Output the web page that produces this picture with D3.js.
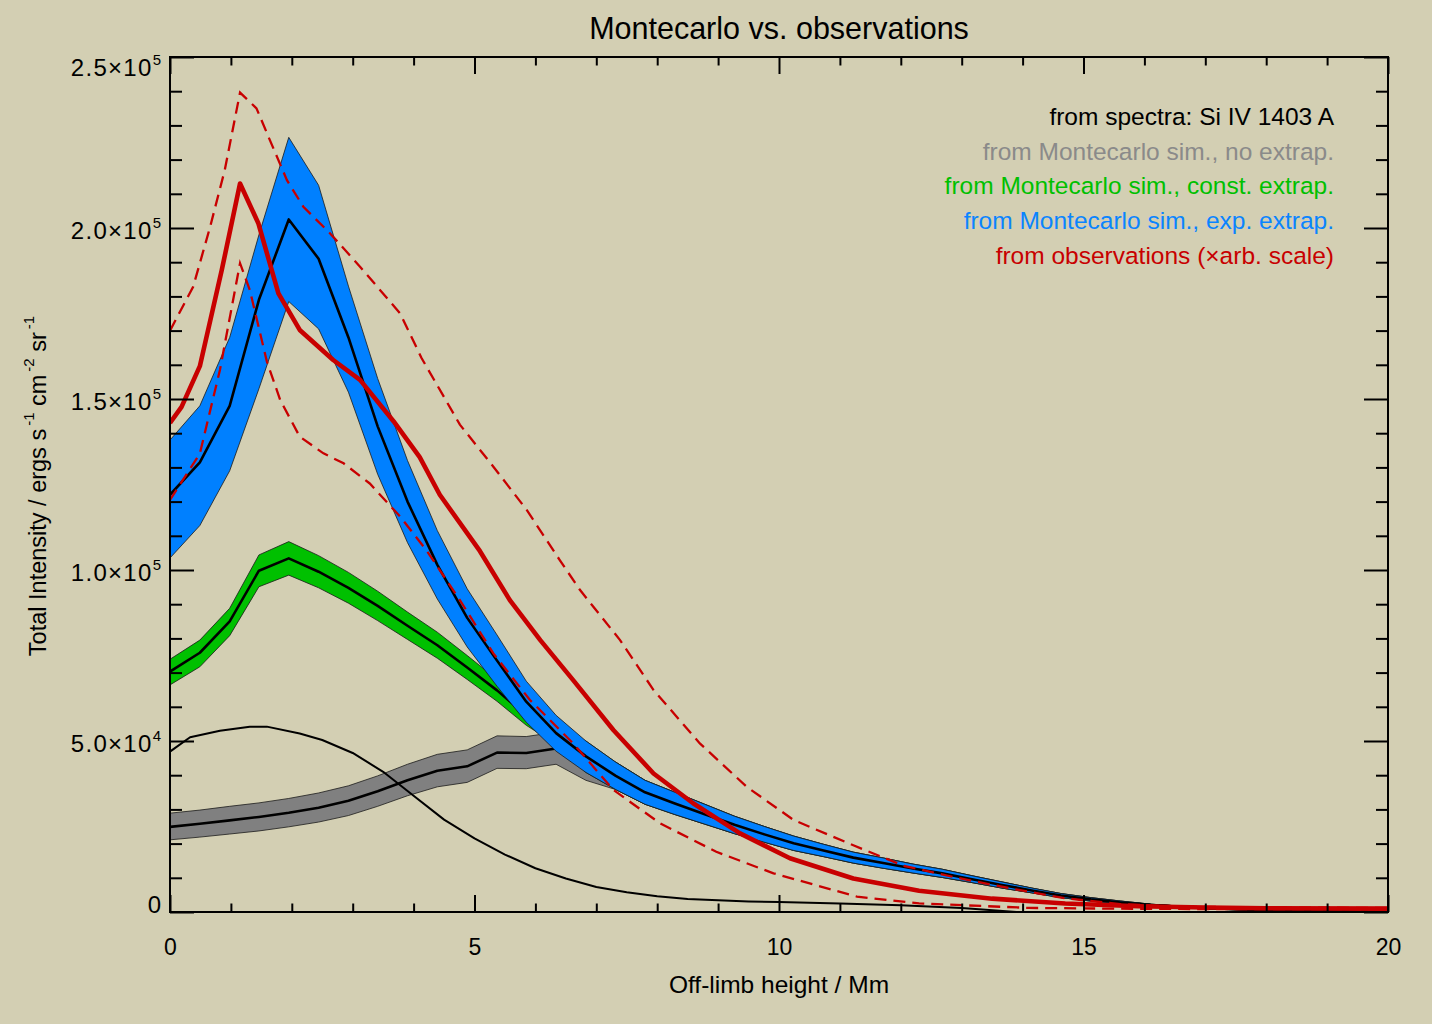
<!DOCTYPE html>
<html>
<head>
<meta charset="utf-8">
<script src="https://cdn.jsdelivr.net/npm/d3@7"></script>
<style>
  body { margin: 0; background: #d3cfb3; }
  svg { display: block; font-family: "Liberation Sans", Arial, Helvetica, sans-serif; }
</style>
</head>
<body>
<svg id="chart" width="1432" height="1024"></svg>
<script>
// Intensities are in units of 10^3 erg s^-1 cm^-2 sr^-1, heights in Mm.

// Simulation height grid
const simHeights = [0, 0.49, 0.98, 1.46, 1.95, 2.44, 2.93, 3.41, 3.90, 4.39, 4.88, 5.37, 5.85, 6.34,
  6.83, 7.32, 7.80, 8.29, 8.78, 9.27, 9.76, 10.24, 10.73, 11.22, 11.71, 12.20, 12.68, 13.17, 13.66,
  14.15, 14.63, 15.12, 15.61, 16.10, 16.59, 17.07, 17.56, 18.05, 18.54, 19.02, 19.51, 20.0];

// Montecarlo, exponential extrapolation: mean and spread
const expMid = [122, 131.5, 148, 179, 202.5, 191, 168, 142, 120, 101.5, 86, 73.5, 61.5, 52.3,
  45.5, 39.8, 35, 31.7, 28.6, 25.5, 22.7, 20.1, 18, 15.9, 14.3, 12.7, 11.3, 9.6, 7.9,
  6.3, 4.8, 3.7, 2.8, 2.0, 1.5, 1.1, 0.8, 0.6, 0.4, 0.3, 0.2, 0.2];
const expHi = [138, 148, 168, 198, 226.5, 212.5, 183, 156, 132, 111.5, 94.5, 81, 67.5, 57.5,
  50, 43.8, 38.5, 35, 31.5, 28, 25, 22.2, 19.8, 17.5, 15.8, 14, 12.5, 10.6, 8.8,
  7, 5.4, 4.2, 3.2, 2.3, 1.7, 1.3, 0.9, 0.7, 0.5, 0.35, 0.25, 0.25];
const expLo = [103.5, 113, 129, 153, 178.5, 170.5, 152, 128, 108, 91.5, 77.5, 66, 55.5, 47,
  40.8, 35.8, 31.5, 28.5, 25.7, 22.9, 20.4, 18, 16.2, 14.3, 12.8, 11.4, 10.1, 8.6, 7,
  5.6, 4.2, 3.2, 2.4, 1.7, 1.3, 0.9, 0.7, 0.5, 0.3, 0.25, 0.15, 0.15];

// Montecarlo, constant extrapolation
const constMid = [70.3, 75.8, 85, 99.8, 103.4, 99.5, 94.8, 89.5, 83.7, 78, 71.5, 64.8, 57.5, 51.5,
  45.5, 39.8, 35, 31.7, 28.6, 25.5, 22.7, 20.1, 18, 15.9, 14.3, 12.7, 11.3, 9.6, 7.9,
  6.3, 4.8, 3.7, 2.8, 2.0, 1.5, 1.1, 0.8, 0.6, 0.4, 0.3, 0.2, 0.2];
const constHi = [73.9, 79.5, 88.8, 104.4, 108.3, 104.2, 99.3, 93.8, 87.7, 81.8, 75, 68, 60.4, 54,
  50, 43.8, 38.5, 35, 31.5, 28, 25, 22.2, 19.8, 17.5, 15.8, 14, 12.5, 10.6, 8.8,
  7, 5.4, 4.2, 3.2, 2.3, 1.7, 1.3, 0.9, 0.7, 0.5, 0.35, 0.25, 0.25];
const constLo = [66.4, 71.7, 80.8, 95.1, 98.5, 94.8, 90.3, 85.2, 79.7, 74.2, 68, 61.6, 54.6, 49,
  40.8, 35.8, 31.5, 28.5, 25.7, 22.9, 20.4, 18, 16.2, 14.3, 12.8, 11.4, 10.1, 8.6, 7,
  5.6, 4.2, 3.2, 2.4, 1.7, 1.3, 0.9, 0.7, 0.5, 0.3, 0.25, 0.15, 0.15];

// Montecarlo, no extrapolation
const noneMid = [24.9, 25.8, 26.8, 27.8, 29.0, 30.5, 32.5, 35.3, 38.5, 41.3, 42.6, 46.6, 46.5, 47.8,
  42.7, 39.8, 35, 31.7, 28.6, 25.5, 22.7, 20.1, 18, 15.9, 14.3, 12.7, 11.3, 9.6, 7.9,
  6.3, 4.8, 3.7, 2.8, 2.0, 1.5, 1.1, 0.8, 0.6, 0.4, 0.3, 0.2, 0.2];
const noneHi = [28.9, 29.8, 30.9, 31.9, 33.2, 34.8, 36.9, 39.8, 43.2, 46.1, 47.4, 51.5, 51.3, 52.6,
  47, 43.8, 38.5, 35, 31.5, 28, 25, 22.2, 19.8, 17.5, 15.8, 14, 12.5, 10.6, 8.8,
  7, 5.4, 4.2, 3.2, 2.3, 1.7, 1.3, 0.9, 0.7, 0.5, 0.35, 0.25, 0.25];
const noneLo = [21.1, 21.9, 22.8, 23.7, 24.9, 26.3, 28.2, 30.9, 34, 36.6, 37.9, 42, 41.9, 43.2,
  38.5, 35.8, 31.5, 28.5, 25.7, 22.9, 20.4, 18, 16.2, 14.3, 12.8, 11.4, 10.1, 8.6, 7,
  5.6, 4.2, 3.2, 2.4, 1.7, 1.3, 0.9, 0.7, 0.5, 0.3, 0.25, 0.15, 0.15];

// From spectra: Si IV 1403 A
const specHeights = [0, 0.33, 0.82, 1.31, 1.59, 2.13, 2.5, 3.0, 3.5, 4.0, 4.5, 5.0, 5.5, 6.0, 6.5,
  7.0, 7.5, 8.0, 8.5, 9.0, 9.5, 10.0, 11.0, 12.0, 13.0, 13.9];
const specValues = [46.9, 51.1, 53.0, 54.2, 54.2, 52.2, 50.3, 46.5, 41, 34, 27, 21.5, 16.8, 12.8, 9.8,
  7.3, 5.8, 4.6, 3.8, 3.4, 3.1, 2.9, 2.5, 2.0, 1.2, 0];

// Observations (arbitrary scale): profile and its upper / lower envelopes
const obsHeights = [0, 0.19, 0.49, 0.85, 1.15, 1.45, 1.78, 2.13, 2.68, 3.12, 3.67, 4.10, 4.43, 5.09,
  5.58, 6.08, 6.62, 7.28, 7.94, 8.59, 9.36, 10.18, 11.22, 12.3, 13.5, 14.7, 15.9, 17, 18, 20];
const obsValues = [143, 147.7, 159.6, 187.7, 213, 201.4, 180.9, 170.2, 161.4, 155.6, 143.5, 133, 122, 105.5,
  91.2, 79.5, 67.8, 53.2, 40.5, 31.8, 23, 15.7, 9.8, 6.2, 3.9, 2.5, 1.7, 1.3, 1.1, 1.0];

const obsHiHeights = [0, 0.38, 0.66, 0.9, 1.15, 1.42, 1.64, 1.92, 2.19, 2.63, 3.12, 3.78, 4.13, 4.76,
  5.31, 5.86, 6.4, 6.73, 7.39, 7.94, 8.7, 9.47, 10.24, 11.22, 12.05, 12.9, 13.8, 14.7, 15.6, 16.5, 18, 20];
const obsHiValues = [170, 182.8, 200.4, 217, 239.6, 235, 225.7, 214, 206.2, 198.4, 188.7, 175, 162, 142.5,
  130.2, 117.5, 102.9, 94.2, 79.5, 64.9, 49.3, 36.6, 26.9, 19.5, 13.5, 10.1, 6.9, 4, 2.3, 1.6, 1.3, 1.2];

const obsLoHeights = [0, 0.49, 0.82, 1.15, 1.31, 1.59, 1.81, 2.13, 2.52, 2.85, 3.28, 3.78, 4.21, 4.76,
  5.31, 5.91, 6.62, 7.28, 8.05, 8.97, 9.91, 11.28, 12.3, 14.1, 16, 20];
const obsLoValues = [120.5, 134, 158.5, 189.7, 181.9, 161, 149.7, 139, 134.1, 131.2, 125.3, 115.6, 105.8, 91.2,
  75.6, 62, 49.3, 35.7, 25.9, 17.6, 11.3, 4.5, 2.5, 1.2, 0.9, 0.8];

// Axis ticks and labels
const xMajorTicks = [0, 5, 10, 15, 20];
const xMinorTicks = [1, 2, 3, 4, 6, 7, 8, 9, 11, 12, 13, 14, 16, 17, 18, 19];
const yMajorTicks = [0, 50, 100, 150, 200, 250];
const yMinorTicks = [10, 20, 30, 40, 60, 70, 80, 90, 110, 120, 130, 140, 160, 170, 180, 190, 210, 220, 230, 240];
const yTickLabels = ["0", "5.0×10^4", "1.0×10^5", "1.5×10^5", "2.0×10^5", "2.5×10^5"];

const legendItems = ["from spectra: Si IV 1403 A", "from Montecarlo sim., no extrap.",
  "from Montecarlo sim., const. extrap.", "from Montecarlo sim., exp. extrap.",
  "from observations (×arb. scale)"];
const legendColors = ["#000000", "#8a8a8a", "#00c000", "#0a84ff", "#c80000"];

const colors = { none: "#808080", cnst: "#00c000", exp: "#0080ff", obs: "#c80000" };

// ---------------------------------------------------------------------------
const svg = d3.select("#chart");
const W = 1432, H = 1024;
svg.append("rect").attr("width", W).attr("height", H).attr("fill", "#d3cfb3");

const plot = { left: 170, right: 1388, top: 57, bottom: 912 };
const x = d3.scaleLinear().domain([0, 20]).range([plot.left, plot.right]);
const y = d3.scaleLinear().domain([0, 250]).range([plot.bottom, plot.top]);

svg.append("defs").append("clipPath").attr("id", "plotClip")
  .append("rect").attr("x", plot.left).attr("y", plot.top)
  .attr("width", plot.right - plot.left).attr("height", plot.bottom - plot.top);

const g = svg.append("g").attr("clip-path", "url(#plotClip)");

const zip = (xs, ys) => xs.map((v, i) => [v, ys[i]]);
const line = d3.line().x(d => x(d[0])).y(d => y(d[1]));
const band = d3.area().x(d => x(d[0])).y0(d => y(d[1])).y1(d => y(d[2]));
const zip3 = (xs, lo, hi) => xs.map((v, i) => [v, lo[i], hi[i]]);

function drawBand(lo, hi, mid, fill) {
  g.append("path").attr("d", band(zip3(simHeights, lo, hi)))
    .attr("fill", fill).attr("stroke", "#1a1a1a").attr("stroke-width", 0.8);
  g.append("path").attr("d", line(zip(simHeights, mid)))
    .attr("fill", "none").attr("stroke", "#000").attr("stroke-width", 2.6)
    .attr("stroke-linejoin", "round");
}

drawBand(noneLo, noneHi, noneMid, colors.none);
drawBand(constLo, constHi, constMid, colors.cnst);
drawBand(expLo, expHi, expMid, colors.exp);

g.append("path").attr("d", line(zip(specHeights, specValues)))
  .attr("fill", "none").attr("stroke", "#000").attr("stroke-width", 2)
  .attr("stroke-linejoin", "round");

[[obsLoHeights, obsLoValues], [obsHiHeights, obsHiValues]].forEach(([hx, hv]) => {
  g.append("path").attr("d", line(zip(hx, hv)))
    .attr("fill", "none").attr("stroke", colors.obs).attr("stroke-width", 2.3)
    .attr("stroke-dasharray", "12,7");
});
g.append("path").attr("d", line(zip(obsHeights, obsValues)))
  .attr("fill", "none").attr("stroke", colors.obs).attr("stroke-width", 4.6)
  .attr("stroke-linejoin", "round");

// ---------------------------------------------------------------------------
// Frame and tick marks on all four sides, pointing inward
const tickStyle = sel => {
  sel.select(".domain").remove();
  sel.selectAll(".tick line").attr("stroke", "#000").attr("stroke-width", 2);
};
const xMajLen = 17, xMinLen = 8.5, yMajLen = 24, yMinLen = 12;

svg.append("g").attr("transform", `translate(0,${plot.bottom})`)
  .call(d3.axisBottom(x).tickValues(xMajorTicks).tickSize(-xMajLen).tickPadding(27)
    .tickFormat(d => String(d)))
  .call(tickStyle)
  .call(s => s.selectAll(".tick text").attr("font-size", 23).attr("fill", "#000")
    .attr("font-family", "'Liberation Sans', Arial, sans-serif"));
svg.append("g").attr("transform", `translate(0,${plot.bottom})`)
  .call(d3.axisBottom(x).tickValues(xMinorTicks).tickSize(-xMinLen).tickFormat(""))
  .call(tickStyle);
svg.append("g").attr("transform", `translate(0,${plot.top})`)
  .call(d3.axisTop(x).tickValues(xMajorTicks).tickSize(-xMajLen).tickFormat(""))
  .call(tickStyle);
svg.append("g").attr("transform", `translate(0,${plot.top})`)
  .call(d3.axisTop(x).tickValues(xMinorTicks).tickSize(-xMinLen).tickFormat(""))
  .call(tickStyle);

svg.append("g").attr("transform", `translate(${plot.left},0)`)
  .call(d3.axisLeft(y).tickValues(yMajorTicks).tickSize(-yMajLen).tickFormat(""))
  .call(tickStyle);
svg.append("g").attr("transform", `translate(${plot.left},0)`)
  .call(d3.axisLeft(y).tickValues(yMinorTicks).tickSize(-yMinLen).tickFormat(""))
  .call(tickStyle);
svg.append("g").attr("transform", `translate(${plot.right},0)`)
  .call(d3.axisRight(y).tickValues(yMajorTicks).tickSize(-yMajLen).tickFormat(""))
  .call(tickStyle);
svg.append("g").attr("transform", `translate(${plot.right},0)`)
  .call(d3.axisRight(y).tickValues(yMinorTicks).tickSize(-yMinLen).tickFormat(""))
  .call(tickStyle);

svg.append("rect")
  .attr("x", plot.left).attr("y", plot.top)
  .attr("width", plot.right - plot.left).attr("height", plot.bottom - plot.top)
  .attr("fill", "none").attr("stroke", "#000").attr("stroke-width", 2);

// Y tick labels with superscript exponents, kept inside the frame's extent
yMajorTicks.forEach((v, i) => {
  const parts = yTickLabels[i].split("^");
  const base = Math.min(Math.max(y(v) + 11, plot.top + 19), plot.bottom + 1);
  const t = svg.append("text").attr("x", 161).attr("y", base)
    .attr("text-anchor", "end").attr("font-size", 24).attr("fill", "#000");
  t.append("tspan").attr("letter-spacing", parts[1] ? 1.3 : 0).text(parts[0]);
  if (parts[1]) {
    t.append("tspan").attr("dy", -11).attr("font-size", 15).text(parts[1]);
  }
});

// Titles
svg.append("text").attr("x", (plot.left + plot.right) / 2).attr("y", 39)
  .attr("text-anchor", "middle").attr("font-size", 30.5).attr("fill", "#000")
  .text("Montecarlo vs. observations");

svg.append("text").attr("x", (plot.left + plot.right) / 2).attr("y", 993)
  .attr("text-anchor", "middle").attr("font-size", 24.5).attr("fill", "#000")
  .text("Off-limb height / Mm");

const yTitle = svg.append("text")
  .attr("transform", "translate(46,486) rotate(-90)")
  .attr("text-anchor", "middle").attr("font-size", 23.5).attr("fill", "#000");
const yTitleParts = [["Total Intensity / ergs s", false], ["-1", true], [" cm", false],
  ["-2", true], [" sr", false], ["-1", true]];
yTitleParts.forEach(([txt, sup]) => {
  const s = yTitle.append("tspan").text(txt);
  if (sup) s.attr("font-size", 15).attr("dy", -12).attr("dx", 3);
  else s.attr("dy", 12);
});
yTitle.select("tspan").attr("dy", 0);

// Legend, right-aligned text block in the upper-right corner
legendItems.forEach((txt, i) => {
  svg.append("text").attr("x", 1334).attr("y", 125 + i * 34.7)
    .attr("text-anchor", "end").attr("font-size", 24.5)
    .attr("fill", legendColors[i]).text(txt);
});
</script>
</body>
</html>
